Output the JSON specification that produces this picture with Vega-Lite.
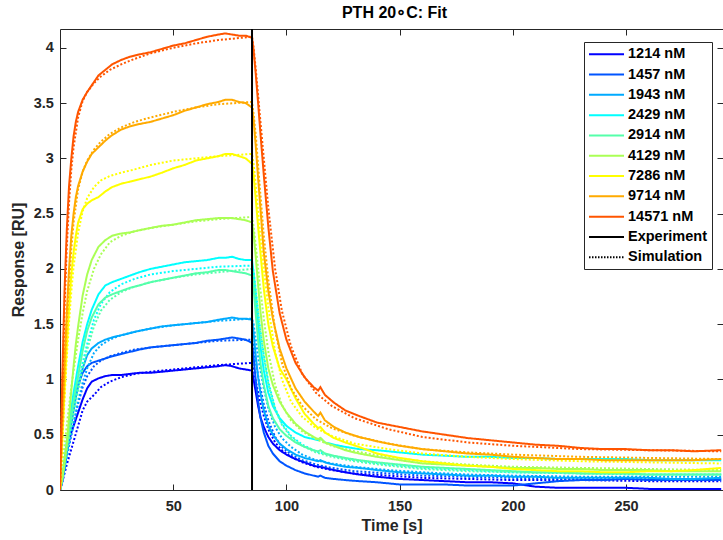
{
"$schema":"https://vega.github.io/schema/vega-lite/v6.json",
"width":663,"height":461,
"autosize":"none",
"padding":{"left":60,"top":29,"right":0,"bottom":50},
"title":{"text":"PTH 20∘C: Fit","fontSize":16,"font":"Liberation Sans","fontWeight":"bold","color":"black","anchor":"middle","offset":7,"dx":3},
"config":{
"view":{"stroke":"#262626","strokeWidth":1},
"axis":{"labelFont":"Liberation Sans","labelFontSize":14.5,"labelFontWeight":"bold","labelColor":"#262626","titleFont":"Liberation Sans","titleFontSize":16,"titleFontWeight":"bold","titleColor":"#262626","tickColor":"#262626","tickWidth":1,"tickSize":-6,"domain":false,"grid":false},
"legend":{"strokeColor":"#262626","fillColor":"white","padding":5,"cornerRadius":0,"labelFont":"Liberation Sans","labelFontSize":14.5,"labelFontWeight":"bold","labelColor":"black","symbolType":"M-1.45,0H5.55","symbolSize":100,"symbolStrokeWidth":2,"labelOffset":24.5,"rowPadding":5.3,"labelLimit":200}
},
"resolve":{"scale":{"color":"independent","strokeDash":"independent"},"axis":{"x":"independent","y":"independent"}},
"layer":[
{"data":{"values":[
{"c":1214,"k":"E","t":0,"v":0},{"c":1214,"k":"E","t":1,"v":0.1},{"c":1214,"k":"E","t":2,"v":0.22},{"c":1214,"k":"E","t":3,"v":0.36},{"c":1214,"k":"E","t":4,"v":0.44},{"c":1214,"k":"E","t":5,"v":0.52},{"c":1214,"k":"E","t":6,"v":0.58},{"c":1214,"k":"E","t":7,"v":0.64},{"c":1214,"k":"E","t":8,"v":0.7},{"c":1214,"k":"E","t":10,"v":0.82},{"c":1214,"k":"E","t":12,"v":0.92},{"c":1214,"k":"E","t":14,"v":0.98},{"c":1214,"k":"E","t":17,"v":1.01},{"c":1214,"k":"E","t":20,"v":1.03},{"c":1214,"k":"E","t":23,"v":1.04},{"c":1214,"k":"E","t":27,"v":1.04},{"c":1214,"k":"E","t":31,"v":1.05},{"c":1214,"k":"E","t":35,"v":1.06},{"c":1214,"k":"E","t":40,"v":1.06},{"c":1214,"k":"E","t":45,"v":1.07},{"c":1214,"k":"E","t":50,"v":1.08},{"c":1214,"k":"E","t":55,"v":1.09},{"c":1214,"k":"E","t":60,"v":1.1},{"c":1214,"k":"E","t":65,"v":1.11},{"c":1214,"k":"E","t":70,"v":1.12},{"c":1214,"k":"E","t":73,"v":1.13},{"c":1214,"k":"E","t":76,"v":1.12},{"c":1214,"k":"E","t":79,"v":1.1},{"c":1214,"k":"E","t":82,"v":1.09},{"c":1214,"k":"E","t":84.8,"v":1.08},
{"c":1214,"k":"E","t":85.5,"v":1.0},{"c":1214,"k":"E","t":86.5,"v":0.88},{"c":1214,"k":"E","t":87.5,"v":0.76},{"c":1214,"k":"E","t":88.5,"v":0.66},{"c":1214,"k":"E","t":90,"v":0.57},{"c":1214,"k":"E","t":92,"v":0.48},{"c":1214,"k":"E","t":94,"v":0.42},{"c":1214,"k":"E","t":97,"v":0.36},{"c":1214,"k":"E","t":100,"v":0.32},{"c":1214,"k":"E","t":104,"v":0.28},{"c":1214,"k":"E","t":108,"v":0.25},{"c":1214,"k":"E","t":112,"v":0.22},{"c":1214,"k":"E","t":114,"v":0.21},{"c":1214,"k":"E","t":115,"v":0.21},{"c":1214,"k":"E","t":117,"v":0.2},{"c":1214,"k":"E","t":121,"v":0.18},{"c":1214,"k":"E","t":126,"v":0.16},{"c":1214,"k":"E","t":132,"v":0.14},{"c":1214,"k":"E","t":140,"v":0.12},{"c":1214,"k":"E","t":150,"v":0.1},{"c":1214,"k":"E","t":160,"v":0.09},{"c":1214,"k":"E","t":170,"v":0.08},{"c":1214,"k":"E","t":180,"v":0.07},{"c":1214,"k":"E","t":190,"v":0.07},{"c":1214,"k":"E","t":200,"v":0.06},{"c":1214,"k":"E","t":210,"v":0.03},{"c":1214,"k":"E","t":220,"v":0.02},{"c":1214,"k":"E","t":230,"v":0.02},{"c":1214,"k":"E","t":240,"v":0.02},{"c":1214,"k":"E","t":250,"v":0.02},{"c":1214,"k":"E","t":260,"v":0.01},{"c":1214,"k":"E","t":270,"v":0.01},{"c":1214,"k":"E","t":280,"v":0.01},{"c":1214,"k":"E","t":292,"v":0.01},
{"c":1214,"k":"S","t":0,"v":0},{"c":1214,"k":"S","t":1,"v":0.07},{"c":1214,"k":"S","t":2,"v":0.15},{"c":1214,"k":"S","t":3,"v":0.23},{"c":1214,"k":"S","t":4,"v":0.3},{"c":1214,"k":"S","t":5,"v":0.37},{"c":1214,"k":"S","t":6,"v":0.44},{"c":1214,"k":"S","t":8,"v":0.58},{"c":1214,"k":"S","t":10,"v":0.72},{"c":1214,"k":"S","t":12,"v":0.8},{"c":1214,"k":"S","t":15,"v":0.86},{"c":1214,"k":"S","t":18,"v":0.93},{"c":1214,"k":"S","t":22,"v":0.98},{"c":1214,"k":"S","t":27,"v":1.02},{"c":1214,"k":"S","t":33,"v":1.05},{"c":1214,"k":"S","t":40,"v":1.07},{"c":1214,"k":"S","t":50,"v":1.09},{"c":1214,"k":"S","t":60,"v":1.11},{"c":1214,"k":"S","t":70,"v":1.13},{"c":1214,"k":"S","t":84.8,"v":1.15},
{"c":1214,"k":"S","t":85.5,"v":1.1},{"c":1214,"k":"S","t":86.5,"v":0.98},{"c":1214,"k":"S","t":88,"v":0.83},{"c":1214,"k":"S","t":90,"v":0.67},{"c":1214,"k":"S","t":92,"v":0.55},{"c":1214,"k":"S","t":95,"v":0.43},{"c":1214,"k":"S","t":98,"v":0.36},{"c":1214,"k":"S","t":102,"v":0.3},{"c":1214,"k":"S","t":107,"v":0.25},{"c":1214,"k":"S","t":113,"v":0.21},{"c":1214,"k":"S","t":120,"v":0.18},{"c":1214,"k":"S","t":130,"v":0.15},{"c":1214,"k":"S","t":145,"v":0.13},{"c":1214,"k":"S","t":160,"v":0.11},{"c":1214,"k":"S","t":180,"v":0.1},{"c":1214,"k":"S","t":200,"v":0.09},{"c":1214,"k":"S","t":230,"v":0.09},{"c":1214,"k":"S","t":260,"v":0.08},{"c":1214,"k":"S","t":292,"v":0.08},
{"c":1457,"k":"E","t":0,"v":0},{"c":1457,"k":"E","t":1,"v":0.08},{"c":1457,"k":"E","t":2,"v":0.2},{"c":1457,"k":"E","t":3,"v":0.34},{"c":1457,"k":"E","t":4,"v":0.48},{"c":1457,"k":"E","t":5,"v":0.62},{"c":1457,"k":"E","t":6,"v":0.75},{"c":1457,"k":"E","t":7,"v":0.86},{"c":1457,"k":"E","t":8,"v":0.95},{"c":1457,"k":"E","t":10,"v":1.06},{"c":1457,"k":"E","t":12,"v":1.12},{"c":1457,"k":"E","t":14,"v":1.15},{"c":1457,"k":"E","t":17,"v":1.17},{"c":1457,"k":"E","t":20,"v":1.19},{"c":1457,"k":"E","t":23,"v":1.21},{"c":1457,"k":"E","t":27,"v":1.23},{"c":1457,"k":"E","t":31,"v":1.25},{"c":1457,"k":"E","t":35,"v":1.27},{"c":1457,"k":"E","t":40,"v":1.29},{"c":1457,"k":"E","t":45,"v":1.3},{"c":1457,"k":"E","t":50,"v":1.31},{"c":1457,"k":"E","t":55,"v":1.32},{"c":1457,"k":"E","t":60,"v":1.33},{"c":1457,"k":"E","t":65,"v":1.35},{"c":1457,"k":"E","t":70,"v":1.36},{"c":1457,"k":"E","t":73,"v":1.37},{"c":1457,"k":"E","t":76,"v":1.38},{"c":1457,"k":"E","t":79,"v":1.37},{"c":1457,"k":"E","t":82,"v":1.36},{"c":1457,"k":"E","t":84.8,"v":1.33},
{"c":1457,"k":"E","t":85.5,"v":1.2},{"c":1457,"k":"E","t":86.5,"v":0.98},{"c":1457,"k":"E","t":87.5,"v":0.8},{"c":1457,"k":"E","t":88.5,"v":0.66},{"c":1457,"k":"E","t":90,"v":0.52},{"c":1457,"k":"E","t":92,"v":0.4},{"c":1457,"k":"E","t":94,"v":0.33},{"c":1457,"k":"E","t":97,"v":0.26},{"c":1457,"k":"E","t":100,"v":0.22},{"c":1457,"k":"E","t":104,"v":0.18},{"c":1457,"k":"E","t":108,"v":0.15},{"c":1457,"k":"E","t":112,"v":0.13},{"c":1457,"k":"E","t":114,"v":0.12},{"c":1457,"k":"E","t":115,"v":0.13},{"c":1457,"k":"E","t":117,"v":0.11},{"c":1457,"k":"E","t":121,"v":0.1},{"c":1457,"k":"E","t":126,"v":0.09},{"c":1457,"k":"E","t":132,"v":0.08},{"c":1457,"k":"E","t":140,"v":0.07},{"c":1457,"k":"E","t":150,"v":0.05},{"c":1457,"k":"E","t":160,"v":0.05},{"c":1457,"k":"E","t":170,"v":0.05},{"c":1457,"k":"E","t":180,"v":0.04},{"c":1457,"k":"E","t":190,"v":0.04},{"c":1457,"k":"E","t":200,"v":0.04},{"c":1457,"k":"E","t":210,"v":0.06},{"c":1457,"k":"E","t":220,"v":0.08},{"c":1457,"k":"E","t":230,"v":0.09},{"c":1457,"k":"E","t":240,"v":0.09},{"c":1457,"k":"E","t":250,"v":0.1},{"c":1457,"k":"E","t":260,"v":0.09},{"c":1457,"k":"E","t":270,"v":0.09},{"c":1457,"k":"E","t":280,"v":0.09},{"c":1457,"k":"E","t":292,"v":0.09},
{"c":1457,"k":"S","t":0,"v":0},{"c":1457,"k":"S","t":1,"v":0.09},{"c":1457,"k":"S","t":2,"v":0.19},{"c":1457,"k":"S","t":3,"v":0.3},{"c":1457,"k":"S","t":4,"v":0.4},{"c":1457,"k":"S","t":5,"v":0.5},{"c":1457,"k":"S","t":6,"v":0.6},{"c":1457,"k":"S","t":8,"v":0.78},{"c":1457,"k":"S","t":10,"v":0.93},{"c":1457,"k":"S","t":12,"v":1.03},{"c":1457,"k":"S","t":15,"v":1.12},{"c":1457,"k":"S","t":18,"v":1.17},{"c":1457,"k":"S","t":22,"v":1.21},{"c":1457,"k":"S","t":27,"v":1.24},{"c":1457,"k":"S","t":33,"v":1.27},{"c":1457,"k":"S","t":40,"v":1.29},{"c":1457,"k":"S","t":50,"v":1.31},{"c":1457,"k":"S","t":60,"v":1.33},{"c":1457,"k":"S","t":70,"v":1.35},{"c":1457,"k":"S","t":84.8,"v":1.36},
{"c":1457,"k":"S","t":85.5,"v":1.3},{"c":1457,"k":"S","t":86.5,"v":1.16},{"c":1457,"k":"S","t":88,"v":0.97},{"c":1457,"k":"S","t":90,"v":0.78},{"c":1457,"k":"S","t":92,"v":0.63},{"c":1457,"k":"S","t":95,"v":0.48},{"c":1457,"k":"S","t":98,"v":0.39},{"c":1457,"k":"S","t":102,"v":0.32},{"c":1457,"k":"S","t":107,"v":0.27},{"c":1457,"k":"S","t":113,"v":0.23},{"c":1457,"k":"S","t":120,"v":0.2},{"c":1457,"k":"S","t":130,"v":0.17},{"c":1457,"k":"S","t":145,"v":0.15},{"c":1457,"k":"S","t":160,"v":0.13},{"c":1457,"k":"S","t":180,"v":0.12},{"c":1457,"k":"S","t":200,"v":0.11},{"c":1457,"k":"S","t":230,"v":0.1},{"c":1457,"k":"S","t":260,"v":0.1},{"c":1457,"k":"S","t":292,"v":0.1},
{"c":1943,"k":"E","t":0,"v":0},{"c":1943,"k":"E","t":1,"v":0.08},{"c":1943,"k":"E","t":2,"v":0.2},{"c":1943,"k":"E","t":3,"v":0.33},{"c":1943,"k":"E","t":4,"v":0.47},{"c":1943,"k":"E","t":5,"v":0.6},{"c":1943,"k":"E","t":6,"v":0.72},{"c":1943,"k":"E","t":7,"v":0.84},{"c":1943,"k":"E","t":8,"v":0.94},{"c":1943,"k":"E","t":10,"v":1.1},{"c":1943,"k":"E","t":12,"v":1.22},{"c":1943,"k":"E","t":14,"v":1.28},{"c":1943,"k":"E","t":17,"v":1.33},{"c":1943,"k":"E","t":20,"v":1.36},{"c":1943,"k":"E","t":23,"v":1.38},{"c":1943,"k":"E","t":27,"v":1.4},{"c":1943,"k":"E","t":31,"v":1.42},{"c":1943,"k":"E","t":35,"v":1.44},{"c":1943,"k":"E","t":40,"v":1.46},{"c":1943,"k":"E","t":45,"v":1.48},{"c":1943,"k":"E","t":50,"v":1.49},{"c":1943,"k":"E","t":55,"v":1.5},{"c":1943,"k":"E","t":60,"v":1.51},{"c":1943,"k":"E","t":65,"v":1.52},{"c":1943,"k":"E","t":70,"v":1.54},{"c":1943,"k":"E","t":73,"v":1.55},{"c":1943,"k":"E","t":76,"v":1.56},{"c":1943,"k":"E","t":79,"v":1.55},{"c":1943,"k":"E","t":82,"v":1.55},{"c":1943,"k":"E","t":84.8,"v":1.54},
{"c":1943,"k":"E","t":85.5,"v":1.42},{"c":1943,"k":"E","t":86.5,"v":1.2},{"c":1943,"k":"E","t":87.5,"v":1.02},{"c":1943,"k":"E","t":88.5,"v":0.88},{"c":1943,"k":"E","t":90,"v":0.72},{"c":1943,"k":"E","t":92,"v":0.58},{"c":1943,"k":"E","t":94,"v":0.5},{"c":1943,"k":"E","t":97,"v":0.42},{"c":1943,"k":"E","t":100,"v":0.37},{"c":1943,"k":"E","t":104,"v":0.32},{"c":1943,"k":"E","t":108,"v":0.29},{"c":1943,"k":"E","t":112,"v":0.27},{"c":1943,"k":"E","t":114,"v":0.26},{"c":1943,"k":"E","t":115,"v":0.27},{"c":1943,"k":"E","t":117,"v":0.25},{"c":1943,"k":"E","t":121,"v":0.23},{"c":1943,"k":"E","t":126,"v":0.21},{"c":1943,"k":"E","t":132,"v":0.2},{"c":1943,"k":"E","t":140,"v":0.18},{"c":1943,"k":"E","t":150,"v":0.16},{"c":1943,"k":"E","t":160,"v":0.15},{"c":1943,"k":"E","t":170,"v":0.14},{"c":1943,"k":"E","t":180,"v":0.13},{"c":1943,"k":"E","t":190,"v":0.13},{"c":1943,"k":"E","t":200,"v":0.12},{"c":1943,"k":"E","t":210,"v":0.12},{"c":1943,"k":"E","t":220,"v":0.11},{"c":1943,"k":"E","t":230,"v":0.11},{"c":1943,"k":"E","t":240,"v":0.11},{"c":1943,"k":"E","t":250,"v":0.11},{"c":1943,"k":"E","t":260,"v":0.11},{"c":1943,"k":"E","t":270,"v":0.1},{"c":1943,"k":"E","t":280,"v":0.1},{"c":1943,"k":"E","t":292,"v":0.11},
{"c":1943,"k":"S","t":0,"v":0},{"c":1943,"k":"S","t":1,"v":0.1},{"c":1943,"k":"S","t":2,"v":0.2},{"c":1943,"k":"S","t":3,"v":0.3},{"c":1943,"k":"S","t":4,"v":0.4},{"c":1943,"k":"S","t":5,"v":0.5},{"c":1943,"k":"S","t":6,"v":0.6},{"c":1943,"k":"S","t":8,"v":0.8},{"c":1943,"k":"S","t":10,"v":0.97},{"c":1943,"k":"S","t":12,"v":1.1},{"c":1943,"k":"S","t":15,"v":1.24},{"c":1943,"k":"S","t":18,"v":1.31},{"c":1943,"k":"S","t":22,"v":1.36},{"c":1943,"k":"S","t":27,"v":1.4},{"c":1943,"k":"S","t":33,"v":1.43},{"c":1943,"k":"S","t":40,"v":1.46},{"c":1943,"k":"S","t":50,"v":1.49},{"c":1943,"k":"S","t":60,"v":1.51},{"c":1943,"k":"S","t":70,"v":1.53},{"c":1943,"k":"S","t":84.8,"v":1.55},
{"c":1943,"k":"S","t":85.5,"v":1.5},{"c":1943,"k":"S","t":86.5,"v":1.35},{"c":1943,"k":"S","t":88,"v":1.14},{"c":1943,"k":"S","t":90,"v":0.92},{"c":1943,"k":"S","t":92,"v":0.74},{"c":1943,"k":"S","t":95,"v":0.57},{"c":1943,"k":"S","t":98,"v":0.47},{"c":1943,"k":"S","t":102,"v":0.39},{"c":1943,"k":"S","t":107,"v":0.32},{"c":1943,"k":"S","t":113,"v":0.27},{"c":1943,"k":"S","t":120,"v":0.24},{"c":1943,"k":"S","t":130,"v":0.21},{"c":1943,"k":"S","t":145,"v":0.18},{"c":1943,"k":"S","t":160,"v":0.16},{"c":1943,"k":"S","t":180,"v":0.14},{"c":1943,"k":"S","t":200,"v":0.13},{"c":1943,"k":"S","t":230,"v":0.12},{"c":1943,"k":"S","t":260,"v":0.12},{"c":1943,"k":"S","t":292,"v":0.12},
{"c":2429,"k":"E","t":0,"v":0},{"c":2429,"k":"E","t":1,"v":0.12},{"c":2429,"k":"E","t":2,"v":0.28},{"c":2429,"k":"E","t":3,"v":0.44},{"c":2429,"k":"E","t":4,"v":0.58},{"c":2429,"k":"E","t":5,"v":0.74},{"c":2429,"k":"E","t":6,"v":0.88},{"c":2429,"k":"E","t":7,"v":1.0},{"c":2429,"k":"E","t":8,"v":1.12},{"c":2429,"k":"E","t":10,"v":1.34},{"c":2429,"k":"E","t":12,"v":1.5},{"c":2429,"k":"E","t":14,"v":1.63},{"c":2429,"k":"E","t":17,"v":1.77},{"c":2429,"k":"E","t":20,"v":1.85},{"c":2429,"k":"E","t":23,"v":1.88},{"c":2429,"k":"E","t":27,"v":1.91},{"c":2429,"k":"E","t":31,"v":1.94},{"c":2429,"k":"E","t":35,"v":1.97},{"c":2429,"k":"E","t":40,"v":2.0},{"c":2429,"k":"E","t":45,"v":2.02},{"c":2429,"k":"E","t":50,"v":2.04},{"c":2429,"k":"E","t":55,"v":2.06},{"c":2429,"k":"E","t":60,"v":2.07},{"c":2429,"k":"E","t":65,"v":2.08},{"c":2429,"k":"E","t":70,"v":2.1},{"c":2429,"k":"E","t":73,"v":2.1},{"c":2429,"k":"E","t":76,"v":2.11},{"c":2429,"k":"E","t":79,"v":2.09},{"c":2429,"k":"E","t":82,"v":2.08},{"c":2429,"k":"E","t":84.8,"v":2.08},
{"c":2429,"k":"E","t":85.5,"v":1.96},{"c":2429,"k":"E","t":86.5,"v":1.72},{"c":2429,"k":"E","t":87.5,"v":1.5},{"c":2429,"k":"E","t":88.5,"v":1.3},{"c":2429,"k":"E","t":90,"v":1.08},{"c":2429,"k":"E","t":92,"v":0.88},{"c":2429,"k":"E","t":94,"v":0.76},{"c":2429,"k":"E","t":97,"v":0.65},{"c":2429,"k":"E","t":100,"v":0.58},{"c":2429,"k":"E","t":104,"v":0.52},{"c":2429,"k":"E","t":108,"v":0.48},{"c":2429,"k":"E","t":112,"v":0.46},{"c":2429,"k":"E","t":114,"v":0.45},{"c":2429,"k":"E","t":115,"v":0.47},{"c":2429,"k":"E","t":117,"v":0.43},{"c":2429,"k":"E","t":121,"v":0.41},{"c":2429,"k":"E","t":126,"v":0.39},{"c":2429,"k":"E","t":132,"v":0.37},{"c":2429,"k":"E","t":140,"v":0.36},{"c":2429,"k":"E","t":150,"v":0.34},{"c":2429,"k":"E","t":160,"v":0.32},{"c":2429,"k":"E","t":170,"v":0.31},{"c":2429,"k":"E","t":180,"v":0.3},{"c":2429,"k":"E","t":190,"v":0.3},{"c":2429,"k":"E","t":200,"v":0.29},{"c":2429,"k":"E","t":210,"v":0.29},{"c":2429,"k":"E","t":220,"v":0.28},{"c":2429,"k":"E","t":230,"v":0.28},{"c":2429,"k":"E","t":240,"v":0.28},{"c":2429,"k":"E","t":250,"v":0.28},{"c":2429,"k":"E","t":260,"v":0.27},{"c":2429,"k":"E","t":270,"v":0.27},{"c":2429,"k":"E","t":280,"v":0.27},{"c":2429,"k":"E","t":292,"v":0.27},
{"c":2429,"k":"S","t":0,"v":0},{"c":2429,"k":"S","t":1,"v":0.12},{"c":2429,"k":"S","t":2,"v":0.25},{"c":2429,"k":"S","t":3,"v":0.38},{"c":2429,"k":"S","t":4,"v":0.5},{"c":2429,"k":"S","t":5,"v":0.62},{"c":2429,"k":"S","t":6,"v":0.74},{"c":2429,"k":"S","t":8,"v":0.95},{"c":2429,"k":"S","t":10,"v":1.15},{"c":2429,"k":"S","t":12,"v":1.32},{"c":2429,"k":"S","t":15,"v":1.54},{"c":2429,"k":"S","t":18,"v":1.68},{"c":2429,"k":"S","t":22,"v":1.79},{"c":2429,"k":"S","t":27,"v":1.86},{"c":2429,"k":"S","t":33,"v":1.91},{"c":2429,"k":"S","t":40,"v":1.95},{"c":2429,"k":"S","t":50,"v":1.98},{"c":2429,"k":"S","t":60,"v":2.0},{"c":2429,"k":"S","t":70,"v":2.02},{"c":2429,"k":"S","t":84.8,"v":2.03},
{"c":2429,"k":"S","t":85.5,"v":1.98},{"c":2429,"k":"S","t":86.5,"v":1.8},{"c":2429,"k":"S","t":88,"v":1.52},{"c":2429,"k":"S","t":90,"v":1.22},{"c":2429,"k":"S","t":92,"v":0.98},{"c":2429,"k":"S","t":95,"v":0.74},{"c":2429,"k":"S","t":98,"v":0.6},{"c":2429,"k":"S","t":102,"v":0.49},{"c":2429,"k":"S","t":107,"v":0.41},{"c":2429,"k":"S","t":113,"v":0.35},{"c":2429,"k":"S","t":120,"v":0.31},{"c":2429,"k":"S","t":130,"v":0.27},{"c":2429,"k":"S","t":145,"v":0.23},{"c":2429,"k":"S","t":160,"v":0.2},{"c":2429,"k":"S","t":180,"v":0.18},{"c":2429,"k":"S","t":200,"v":0.16},{"c":2429,"k":"S","t":230,"v":0.15},{"c":2429,"k":"S","t":260,"v":0.14},{"c":2429,"k":"S","t":292,"v":0.14},
{"c":2914,"k":"E","t":0,"v":0},{"c":2914,"k":"E","t":1,"v":0.1},{"c":2914,"k":"E","t":2,"v":0.24},{"c":2914,"k":"E","t":3,"v":0.38},{"c":2914,"k":"E","t":4,"v":0.52},{"c":2914,"k":"E","t":5,"v":0.66},{"c":2914,"k":"E","t":6,"v":0.8},{"c":2914,"k":"E","t":7,"v":0.92},{"c":2914,"k":"E","t":8,"v":1.03},{"c":2914,"k":"E","t":10,"v":1.26},{"c":2914,"k":"E","t":12,"v":1.44},{"c":2914,"k":"E","t":14,"v":1.56},{"c":2914,"k":"E","t":17,"v":1.68},{"c":2914,"k":"E","t":20,"v":1.74},{"c":2914,"k":"E","t":23,"v":1.77},{"c":2914,"k":"E","t":27,"v":1.8},{"c":2914,"k":"E","t":31,"v":1.83},{"c":2914,"k":"E","t":35,"v":1.85},{"c":2914,"k":"E","t":40,"v":1.88},{"c":2914,"k":"E","t":45,"v":1.9},{"c":2914,"k":"E","t":50,"v":1.92},{"c":2914,"k":"E","t":55,"v":1.94},{"c":2914,"k":"E","t":60,"v":1.96},{"c":2914,"k":"E","t":65,"v":1.97},{"c":2914,"k":"E","t":70,"v":1.99},{"c":2914,"k":"E","t":73,"v":1.99},{"c":2914,"k":"E","t":76,"v":1.98},{"c":2914,"k":"E","t":79,"v":1.97},{"c":2914,"k":"E","t":82,"v":1.96},{"c":2914,"k":"E","t":84.8,"v":1.94},
{"c":2914,"k":"E","t":85.5,"v":1.82},{"c":2914,"k":"E","t":86.5,"v":1.58},{"c":2914,"k":"E","t":87.5,"v":1.35},{"c":2914,"k":"E","t":88.5,"v":1.15},{"c":2914,"k":"E","t":90,"v":0.95},{"c":2914,"k":"E","t":92,"v":0.76},{"c":2914,"k":"E","t":94,"v":0.65},{"c":2914,"k":"E","t":97,"v":0.55},{"c":2914,"k":"E","t":100,"v":0.49},{"c":2914,"k":"E","t":104,"v":0.43},{"c":2914,"k":"E","t":108,"v":0.39},{"c":2914,"k":"E","t":112,"v":0.36},{"c":2914,"k":"E","t":114,"v":0.35},{"c":2914,"k":"E","t":115,"v":0.36},{"c":2914,"k":"E","t":117,"v":0.33},{"c":2914,"k":"E","t":121,"v":0.31},{"c":2914,"k":"E","t":126,"v":0.29},{"c":2914,"k":"E","t":132,"v":0.27},{"c":2914,"k":"E","t":140,"v":0.25},{"c":2914,"k":"E","t":150,"v":0.23},{"c":2914,"k":"E","t":160,"v":0.21},{"c":2914,"k":"E","t":170,"v":0.2},{"c":2914,"k":"E","t":180,"v":0.19},{"c":2914,"k":"E","t":190,"v":0.18},{"c":2914,"k":"E","t":200,"v":0.17},{"c":2914,"k":"E","t":210,"v":0.16},{"c":2914,"k":"E","t":220,"v":0.16},{"c":2914,"k":"E","t":230,"v":0.15},{"c":2914,"k":"E","t":240,"v":0.15},{"c":2914,"k":"E","t":250,"v":0.15},{"c":2914,"k":"E","t":260,"v":0.14},{"c":2914,"k":"E","t":270,"v":0.14},{"c":2914,"k":"E","t":280,"v":0.14},{"c":2914,"k":"E","t":292,"v":0.14},
{"c":2914,"k":"S","t":0,"v":0},{"c":2914,"k":"S","t":1,"v":0.11},{"c":2914,"k":"S","t":2,"v":0.23},{"c":2914,"k":"S","t":3,"v":0.35},{"c":2914,"k":"S","t":4,"v":0.47},{"c":2914,"k":"S","t":5,"v":0.58},{"c":2914,"k":"S","t":6,"v":0.7},{"c":2914,"k":"S","t":8,"v":0.9},{"c":2914,"k":"S","t":10,"v":1.1},{"c":2914,"k":"S","t":12,"v":1.27},{"c":2914,"k":"S","t":15,"v":1.48},{"c":2914,"k":"S","t":18,"v":1.62},{"c":2914,"k":"S","t":22,"v":1.72},{"c":2914,"k":"S","t":27,"v":1.79},{"c":2914,"k":"S","t":33,"v":1.84},{"c":2914,"k":"S","t":40,"v":1.88},{"c":2914,"k":"S","t":50,"v":1.92},{"c":2914,"k":"S","t":60,"v":1.95},{"c":2914,"k":"S","t":70,"v":1.97},{"c":2914,"k":"S","t":84.8,"v":2.0},
{"c":2914,"k":"S","t":85.5,"v":1.95},{"c":2914,"k":"S","t":86.5,"v":1.78},{"c":2914,"k":"S","t":88,"v":1.5},{"c":2914,"k":"S","t":90,"v":1.2},{"c":2914,"k":"S","t":92,"v":0.96},{"c":2914,"k":"S","t":95,"v":0.73},{"c":2914,"k":"S","t":98,"v":0.59},{"c":2914,"k":"S","t":102,"v":0.48},{"c":2914,"k":"S","t":107,"v":0.4},{"c":2914,"k":"S","t":113,"v":0.34},{"c":2914,"k":"S","t":120,"v":0.3},{"c":2914,"k":"S","t":130,"v":0.26},{"c":2914,"k":"S","t":145,"v":0.22},{"c":2914,"k":"S","t":160,"v":0.19},{"c":2914,"k":"S","t":180,"v":0.17},{"c":2914,"k":"S","t":200,"v":0.16},{"c":2914,"k":"S","t":230,"v":0.15},{"c":2914,"k":"S","t":260,"v":0.14},{"c":2914,"k":"S","t":292,"v":0.14},
{"c":4129,"k":"E","t":0,"v":0},{"c":4129,"k":"E","t":1,"v":0.1},{"c":4129,"k":"E","t":2,"v":0.25},{"c":4129,"k":"E","t":3,"v":0.42},{"c":4129,"k":"E","t":4,"v":0.65},{"c":4129,"k":"E","t":5,"v":0.9},{"c":4129,"k":"E","t":6,"v":1.12},{"c":4129,"k":"E","t":7,"v":1.32},{"c":4129,"k":"E","t":8,"v":1.48},{"c":4129,"k":"E","t":10,"v":1.76},{"c":4129,"k":"E","t":12,"v":1.95},{"c":4129,"k":"E","t":14,"v":2.08},{"c":4129,"k":"E","t":17,"v":2.2},{"c":4129,"k":"E","t":20,"v":2.26},{"c":4129,"k":"E","t":23,"v":2.3},{"c":4129,"k":"E","t":27,"v":2.32},{"c":4129,"k":"E","t":31,"v":2.33},{"c":4129,"k":"E","t":35,"v":2.35},{"c":4129,"k":"E","t":40,"v":2.37},{"c":4129,"k":"E","t":45,"v":2.39},{"c":4129,"k":"E","t":50,"v":2.4},{"c":4129,"k":"E","t":55,"v":2.42},{"c":4129,"k":"E","t":60,"v":2.44},{"c":4129,"k":"E","t":65,"v":2.45},{"c":4129,"k":"E","t":70,"v":2.46},{"c":4129,"k":"E","t":73,"v":2.46},{"c":4129,"k":"E","t":76,"v":2.46},{"c":4129,"k":"E","t":79,"v":2.45},{"c":4129,"k":"E","t":82,"v":2.44},{"c":4129,"k":"E","t":84.8,"v":2.42},
{"c":4129,"k":"E","t":85.5,"v":2.32},{"c":4129,"k":"E","t":86.5,"v":2.1},{"c":4129,"k":"E","t":87.5,"v":1.85},{"c":4129,"k":"E","t":88.5,"v":1.62},{"c":4129,"k":"E","t":90,"v":1.35},{"c":4129,"k":"E","t":92,"v":1.1},{"c":4129,"k":"E","t":94,"v":0.95},{"c":4129,"k":"E","t":97,"v":0.8},{"c":4129,"k":"E","t":100,"v":0.7},{"c":4129,"k":"E","t":104,"v":0.6},{"c":4129,"k":"E","t":108,"v":0.53},{"c":4129,"k":"E","t":112,"v":0.48},{"c":4129,"k":"E","t":114,"v":0.46},{"c":4129,"k":"E","t":115,"v":0.47},{"c":4129,"k":"E","t":117,"v":0.43},{"c":4129,"k":"E","t":121,"v":0.4},{"c":4129,"k":"E","t":126,"v":0.36},{"c":4129,"k":"E","t":132,"v":0.33},{"c":4129,"k":"E","t":140,"v":0.3},{"c":4129,"k":"E","t":150,"v":0.27},{"c":4129,"k":"E","t":160,"v":0.24},{"c":4129,"k":"E","t":170,"v":0.23},{"c":4129,"k":"E","t":180,"v":0.22},{"c":4129,"k":"E","t":190,"v":0.21},{"c":4129,"k":"E","t":200,"v":0.2},{"c":4129,"k":"E","t":210,"v":0.2},{"c":4129,"k":"E","t":220,"v":0.19},{"c":4129,"k":"E","t":230,"v":0.19},{"c":4129,"k":"E","t":240,"v":0.18},{"c":4129,"k":"E","t":250,"v":0.18},{"c":4129,"k":"E","t":260,"v":0.18},{"c":4129,"k":"E","t":270,"v":0.17},{"c":4129,"k":"E","t":280,"v":0.17},{"c":4129,"k":"E","t":292,"v":0.17},
{"c":4129,"k":"S","t":0,"v":0},{"c":4129,"k":"S","t":1,"v":0.2},{"c":4129,"k":"S","t":2,"v":0.4},{"c":4129,"k":"S","t":3,"v":0.58},{"c":4129,"k":"S","t":4,"v":0.76},{"c":4129,"k":"S","t":5,"v":0.93},{"c":4129,"k":"S","t":6,"v":1.08},{"c":4129,"k":"S","t":8,"v":1.36},{"c":4129,"k":"S","t":10,"v":1.6},{"c":4129,"k":"S","t":12,"v":1.8},{"c":4129,"k":"S","t":15,"v":2.0},{"c":4129,"k":"S","t":18,"v":2.13},{"c":4129,"k":"S","t":22,"v":2.24},{"c":4129,"k":"S","t":27,"v":2.3},{"c":4129,"k":"S","t":33,"v":2.34},{"c":4129,"k":"S","t":40,"v":2.37},{"c":4129,"k":"S","t":50,"v":2.4},{"c":4129,"k":"S","t":60,"v":2.43},{"c":4129,"k":"S","t":70,"v":2.45},{"c":4129,"k":"S","t":84.8,"v":2.47},
{"c":4129,"k":"S","t":85.5,"v":2.38},{"c":4129,"k":"S","t":86.5,"v":2.2},{"c":4129,"k":"S","t":88,"v":1.9},{"c":4129,"k":"S","t":90,"v":1.55},{"c":4129,"k":"S","t":92,"v":1.25},{"c":4129,"k":"S","t":95,"v":0.95},{"c":4129,"k":"S","t":98,"v":0.77},{"c":4129,"k":"S","t":102,"v":0.63},{"c":4129,"k":"S","t":107,"v":0.53},{"c":4129,"k":"S","t":113,"v":0.46},{"c":4129,"k":"S","t":120,"v":0.4},{"c":4129,"k":"S","t":130,"v":0.35},{"c":4129,"k":"S","t":145,"v":0.3},{"c":4129,"k":"S","t":160,"v":0.26},{"c":4129,"k":"S","t":180,"v":0.23},{"c":4129,"k":"S","t":200,"v":0.21},{"c":4129,"k":"S","t":230,"v":0.2},{"c":4129,"k":"S","t":260,"v":0.19},{"c":4129,"k":"S","t":292,"v":0.18},
{"c":7286,"k":"E","t":0,"v":0},{"c":7286,"k":"E","t":1,"v":0.45},{"c":7286,"k":"E","t":2,"v":0.9},{"c":7286,"k":"E","t":3,"v":1.3},{"c":7286,"k":"E","t":4,"v":1.65},{"c":7286,"k":"E","t":5,"v":1.95},{"c":7286,"k":"E","t":6,"v":2.15},{"c":7286,"k":"E","t":7,"v":2.3},{"c":7286,"k":"E","t":8,"v":2.42},{"c":7286,"k":"E","t":10,"v":2.54},{"c":7286,"k":"E","t":12,"v":2.59},{"c":7286,"k":"E","t":14,"v":2.62},{"c":7286,"k":"E","t":17,"v":2.65},{"c":7286,"k":"E","t":20,"v":2.7},{"c":7286,"k":"E","t":23,"v":2.74},{"c":7286,"k":"E","t":27,"v":2.77},{"c":7286,"k":"E","t":31,"v":2.79},{"c":7286,"k":"E","t":35,"v":2.81},{"c":7286,"k":"E","t":40,"v":2.835},{"c":7286,"k":"E","t":45,"v":2.87},{"c":7286,"k":"E","t":50,"v":2.91},{"c":7286,"k":"E","t":55,"v":2.94},{"c":7286,"k":"E","t":60,"v":2.98},{"c":7286,"k":"E","t":65,"v":3.0},{"c":7286,"k":"E","t":70,"v":3.02},{"c":7286,"k":"E","t":73,"v":3.04},{"c":7286,"k":"E","t":76,"v":3.04},{"c":7286,"k":"E","t":79,"v":3.02},{"c":7286,"k":"E","t":82,"v":3.0},{"c":7286,"k":"E","t":84.8,"v":2.95},
{"c":7286,"k":"E","t":85.5,"v":2.85},{"c":7286,"k":"E","t":86.5,"v":2.62},{"c":7286,"k":"E","t":87.5,"v":2.38},{"c":7286,"k":"E","t":88.5,"v":2.15},{"c":7286,"k":"E","t":90,"v":1.82},{"c":7286,"k":"E","t":92,"v":1.5},{"c":7286,"k":"E","t":94,"v":1.3},{"c":7286,"k":"E","t":97,"v":1.1},{"c":7286,"k":"E","t":100,"v":1.0},{"c":7286,"k":"E","t":104,"v":0.83},{"c":7286,"k":"E","t":108,"v":0.69},{"c":7286,"k":"E","t":112,"v":0.6},{"c":7286,"k":"E","t":114,"v":0.56},{"c":7286,"k":"E","t":115,"v":0.57},{"c":7286,"k":"E","t":117,"v":0.52},{"c":7286,"k":"E","t":121,"v":0.47},{"c":7286,"k":"E","t":126,"v":0.43},{"c":7286,"k":"E","t":132,"v":0.39},{"c":7286,"k":"E","t":140,"v":0.33},{"c":7286,"k":"E","t":150,"v":0.29},{"c":7286,"k":"E","t":160,"v":0.26},{"c":7286,"k":"E","t":170,"v":0.24},{"c":7286,"k":"E","t":180,"v":0.22},{"c":7286,"k":"E","t":190,"v":0.21},{"c":7286,"k":"E","t":200,"v":0.19},{"c":7286,"k":"E","t":210,"v":0.18},{"c":7286,"k":"E","t":220,"v":0.17},{"c":7286,"k":"E","t":230,"v":0.17},{"c":7286,"k":"E","t":240,"v":0.16},{"c":7286,"k":"E","t":250,"v":0.16},{"c":7286,"k":"E","t":260,"v":0.17},{"c":7286,"k":"E","t":270,"v":0.17},{"c":7286,"k":"E","t":280,"v":0.18},{"c":7286,"k":"E","t":292,"v":0.2},
{"c":7286,"k":"S","t":0,"v":0},{"c":7286,"k":"S","t":1,"v":0.42},{"c":7286,"k":"S","t":2,"v":0.82},{"c":7286,"k":"S","t":3,"v":1.2},{"c":7286,"k":"S","t":4,"v":1.52},{"c":7286,"k":"S","t":5,"v":1.8},{"c":7286,"k":"S","t":6,"v":2.02},{"c":7286,"k":"S","t":8,"v":2.33},{"c":7286,"k":"S","t":10,"v":2.52},{"c":7286,"k":"S","t":12,"v":2.64},{"c":7286,"k":"S","t":15,"v":2.74},{"c":7286,"k":"S","t":18,"v":2.8},{"c":7286,"k":"S","t":22,"v":2.84},{"c":7286,"k":"S","t":27,"v":2.87},{"c":7286,"k":"S","t":33,"v":2.9},{"c":7286,"k":"S","t":40,"v":2.94},{"c":7286,"k":"S","t":50,"v":2.98},{"c":7286,"k":"S","t":60,"v":3.0},{"c":7286,"k":"S","t":70,"v":3.02},{"c":7286,"k":"S","t":84.8,"v":3.04},
{"c":7286,"k":"S","t":85.5,"v":2.95},{"c":7286,"k":"S","t":86.5,"v":2.75},{"c":7286,"k":"S","t":88,"v":2.4},{"c":7286,"k":"S","t":90,"v":2.0},{"c":7286,"k":"S","t":92,"v":1.65},{"c":7286,"k":"S","t":95,"v":1.25},{"c":7286,"k":"S","t":98,"v":1.0},{"c":7286,"k":"S","t":102,"v":0.8},{"c":7286,"k":"S","t":107,"v":0.66},{"c":7286,"k":"S","t":113,"v":0.56},{"c":7286,"k":"S","t":120,"v":0.49},{"c":7286,"k":"S","t":130,"v":0.42},{"c":7286,"k":"S","t":145,"v":0.37},{"c":7286,"k":"S","t":160,"v":0.33},{"c":7286,"k":"S","t":180,"v":0.3},{"c":7286,"k":"S","t":200,"v":0.28},{"c":7286,"k":"S","t":230,"v":0.26},{"c":7286,"k":"S","t":260,"v":0.25},{"c":7286,"k":"S","t":292,"v":0.24},
{"c":9714,"k":"E","t":0,"v":0},{"c":9714,"k":"E","t":1,"v":0.6},{"c":9714,"k":"E","t":2,"v":1.15},{"c":9714,"k":"E","t":3,"v":1.6},{"c":9714,"k":"E","t":4,"v":2.0},{"c":9714,"k":"E","t":5,"v":2.3},{"c":9714,"k":"E","t":6,"v":2.5},{"c":9714,"k":"E","t":7,"v":2.65},{"c":9714,"k":"E","t":8,"v":2.75},{"c":9714,"k":"E","t":10,"v":2.88},{"c":9714,"k":"E","t":12,"v":2.97},{"c":9714,"k":"E","t":14,"v":3.04},{"c":9714,"k":"E","t":17,"v":3.1},{"c":9714,"k":"E","t":20,"v":3.16},{"c":9714,"k":"E","t":23,"v":3.21},{"c":9714,"k":"E","t":27,"v":3.26},{"c":9714,"k":"E","t":31,"v":3.29},{"c":9714,"k":"E","t":35,"v":3.31},{"c":9714,"k":"E","t":40,"v":3.33},{"c":9714,"k":"E","t":45,"v":3.36},{"c":9714,"k":"E","t":50,"v":3.39},{"c":9714,"k":"E","t":55,"v":3.43},{"c":9714,"k":"E","t":60,"v":3.46},{"c":9714,"k":"E","t":65,"v":3.49},{"c":9714,"k":"E","t":70,"v":3.51},{"c":9714,"k":"E","t":73,"v":3.53},{"c":9714,"k":"E","t":76,"v":3.53},{"c":9714,"k":"E","t":79,"v":3.51},{"c":9714,"k":"E","t":82,"v":3.5},{"c":9714,"k":"E","t":84.8,"v":3.46},
{"c":9714,"k":"E","t":85.5,"v":3.35},{"c":9714,"k":"E","t":86.5,"v":3.1},{"c":9714,"k":"E","t":87.5,"v":2.82},{"c":9714,"k":"E","t":88.5,"v":2.55},{"c":9714,"k":"E","t":90,"v":2.15},{"c":9714,"k":"E","t":92,"v":1.8},{"c":9714,"k":"E","t":94,"v":1.55},{"c":9714,"k":"E","t":97,"v":1.28},{"c":9714,"k":"E","t":100,"v":1.1},{"c":9714,"k":"E","t":104,"v":0.92},{"c":9714,"k":"E","t":108,"v":0.8},{"c":9714,"k":"E","t":112,"v":0.71},{"c":9714,"k":"E","t":114,"v":0.67},{"c":9714,"k":"E","t":115,"v":0.7},{"c":9714,"k":"E","t":117,"v":0.63},{"c":9714,"k":"E","t":121,"v":0.57},{"c":9714,"k":"E","t":126,"v":0.52},{"c":9714,"k":"E","t":132,"v":0.48},{"c":9714,"k":"E","t":140,"v":0.44},{"c":9714,"k":"E","t":150,"v":0.4},{"c":9714,"k":"E","t":160,"v":0.37},{"c":9714,"k":"E","t":170,"v":0.35},{"c":9714,"k":"E","t":180,"v":0.33},{"c":9714,"k":"E","t":190,"v":0.32},{"c":9714,"k":"E","t":200,"v":0.3},{"c":9714,"k":"E","t":210,"v":0.29},{"c":9714,"k":"E","t":220,"v":0.28},{"c":9714,"k":"E","t":230,"v":0.28},{"c":9714,"k":"E","t":240,"v":0.27},{"c":9714,"k":"E","t":250,"v":0.27},{"c":9714,"k":"E","t":260,"v":0.27},{"c":9714,"k":"E","t":270,"v":0.27},{"c":9714,"k":"E","t":280,"v":0.27},{"c":9714,"k":"E","t":292,"v":0.28},
{"c":9714,"k":"S","t":0,"v":0},{"c":9714,"k":"S","t":1,"v":0.55},{"c":9714,"k":"S","t":2,"v":1.05},{"c":9714,"k":"S","t":3,"v":1.5},{"c":9714,"k":"S","t":4,"v":1.88},{"c":9714,"k":"S","t":5,"v":2.18},{"c":9714,"k":"S","t":6,"v":2.42},{"c":9714,"k":"S","t":8,"v":2.72},{"c":9714,"k":"S","t":10,"v":2.88},{"c":9714,"k":"S","t":12,"v":2.98},{"c":9714,"k":"S","t":15,"v":3.08},{"c":9714,"k":"S","t":18,"v":3.15},{"c":9714,"k":"S","t":22,"v":3.22},{"c":9714,"k":"S","t":27,"v":3.28},{"c":9714,"k":"S","t":33,"v":3.33},{"c":9714,"k":"S","t":40,"v":3.37},{"c":9714,"k":"S","t":50,"v":3.42},{"c":9714,"k":"S","t":60,"v":3.46},{"c":9714,"k":"S","t":70,"v":3.49},{"c":9714,"k":"S","t":84.8,"v":3.51},
{"c":9714,"k":"S","t":85.5,"v":3.4},{"c":9714,"k":"S","t":86.5,"v":3.2},{"c":9714,"k":"S","t":88,"v":2.8},{"c":9714,"k":"S","t":90,"v":2.3},{"c":9714,"k":"S","t":92,"v":1.9},{"c":9714,"k":"S","t":95,"v":1.45},{"c":9714,"k":"S","t":98,"v":1.15},{"c":9714,"k":"S","t":102,"v":0.92},{"c":9714,"k":"S","t":107,"v":0.76},{"c":9714,"k":"S","t":113,"v":0.64},{"c":9714,"k":"S","t":120,"v":0.56},{"c":9714,"k":"S","t":130,"v":0.49},{"c":9714,"k":"S","t":145,"v":0.42},{"c":9714,"k":"S","t":160,"v":0.37},{"c":9714,"k":"S","t":180,"v":0.34},{"c":9714,"k":"S","t":200,"v":0.32},{"c":9714,"k":"S","t":230,"v":0.3},{"c":9714,"k":"S","t":260,"v":0.29},{"c":9714,"k":"S","t":292,"v":0.28},
{"c":14571,"k":"E","t":0,"v":0},{"c":14571,"k":"E","t":1,"v":1.0},{"c":14571,"k":"E","t":2,"v":1.8},{"c":14571,"k":"E","t":3,"v":2.35},{"c":14571,"k":"E","t":4,"v":2.75},{"c":14571,"k":"E","t":5,"v":3.0},{"c":14571,"k":"E","t":6,"v":3.2},{"c":14571,"k":"E","t":7,"v":3.33},{"c":14571,"k":"E","t":8,"v":3.42},{"c":14571,"k":"E","t":10,"v":3.53},{"c":14571,"k":"E","t":12,"v":3.6},{"c":14571,"k":"E","t":14,"v":3.66},{"c":14571,"k":"E","t":17,"v":3.75},{"c":14571,"k":"E","t":20,"v":3.8},{"c":14571,"k":"E","t":23,"v":3.85},{"c":14571,"k":"E","t":27,"v":3.89},{"c":14571,"k":"E","t":31,"v":3.92},{"c":14571,"k":"E","t":35,"v":3.94},{"c":14571,"k":"E","t":40,"v":3.96},{"c":14571,"k":"E","t":45,"v":3.99},{"c":14571,"k":"E","t":50,"v":4.02},{"c":14571,"k":"E","t":55,"v":4.04},{"c":14571,"k":"E","t":60,"v":4.07},{"c":14571,"k":"E","t":65,"v":4.1},{"c":14571,"k":"E","t":70,"v":4.12},{"c":14571,"k":"E","t":73,"v":4.13},{"c":14571,"k":"E","t":76,"v":4.12},{"c":14571,"k":"E","t":79,"v":4.11},{"c":14571,"k":"E","t":82,"v":4.11},{"c":14571,"k":"E","t":84.8,"v":4.09},
{"c":14571,"k":"E","t":85.5,"v":3.98},{"c":14571,"k":"E","t":86.5,"v":3.75},{"c":14571,"k":"E","t":87.5,"v":3.5},{"c":14571,"k":"E","t":88.5,"v":3.23},{"c":14571,"k":"E","t":90,"v":2.85},{"c":14571,"k":"E","t":92,"v":2.38},{"c":14571,"k":"E","t":94,"v":1.98},{"c":14571,"k":"E","t":97,"v":1.6},{"c":14571,"k":"E","t":100,"v":1.36},{"c":14571,"k":"E","t":104,"v":1.15},{"c":14571,"k":"E","t":108,"v":1.02},{"c":14571,"k":"E","t":112,"v":0.93},{"c":14571,"k":"E","t":114,"v":0.9},{"c":14571,"k":"E","t":115,"v":0.93},{"c":14571,"k":"E","t":117,"v":0.86},{"c":14571,"k":"E","t":121,"v":0.79},{"c":14571,"k":"E","t":126,"v":0.72},{"c":14571,"k":"E","t":132,"v":0.67},{"c":14571,"k":"E","t":140,"v":0.61},{"c":14571,"k":"E","t":150,"v":0.57},{"c":14571,"k":"E","t":160,"v":0.53},{"c":14571,"k":"E","t":170,"v":0.5},{"c":14571,"k":"E","t":180,"v":0.47},{"c":14571,"k":"E","t":190,"v":0.45},{"c":14571,"k":"E","t":200,"v":0.43},{"c":14571,"k":"E","t":210,"v":0.41},{"c":14571,"k":"E","t":220,"v":0.4},{"c":14571,"k":"E","t":230,"v":0.38},{"c":14571,"k":"E","t":240,"v":0.37},{"c":14571,"k":"E","t":250,"v":0.37},{"c":14571,"k":"E","t":260,"v":0.36},{"c":14571,"k":"E","t":270,"v":0.36},{"c":14571,"k":"E","t":280,"v":0.35},{"c":14571,"k":"E","t":292,"v":0.36},
{"c":14571,"k":"S","t":0,"v":0},{"c":14571,"k":"S","t":1,"v":0.9},{"c":14571,"k":"S","t":2,"v":1.65},{"c":14571,"k":"S","t":3,"v":2.2},{"c":14571,"k":"S","t":4,"v":2.6},{"c":14571,"k":"S","t":5,"v":2.9},{"c":14571,"k":"S","t":6,"v":3.1},{"c":14571,"k":"S","t":8,"v":3.37},{"c":14571,"k":"S","t":10,"v":3.52},{"c":14571,"k":"S","t":12,"v":3.6},{"c":14571,"k":"S","t":15,"v":3.68},{"c":14571,"k":"S","t":18,"v":3.74},{"c":14571,"k":"S","t":22,"v":3.8},{"c":14571,"k":"S","t":27,"v":3.85},{"c":14571,"k":"S","t":33,"v":3.9},{"c":14571,"k":"S","t":40,"v":3.95},{"c":14571,"k":"S","t":50,"v":4.0},{"c":14571,"k":"S","t":60,"v":4.04},{"c":14571,"k":"S","t":70,"v":4.07},{"c":14571,"k":"S","t":84.8,"v":4.1},
{"c":14571,"k":"S","t":85.5,"v":4.0},{"c":14571,"k":"S","t":86.5,"v":3.8},{"c":14571,"k":"S","t":88,"v":3.45},{"c":14571,"k":"S","t":90,"v":3.0},{"c":14571,"k":"S","t":92,"v":2.55},{"c":14571,"k":"S","t":95,"v":2.0},{"c":14571,"k":"S","t":98,"v":1.62},{"c":14571,"k":"S","t":102,"v":1.3},{"c":14571,"k":"S","t":107,"v":1.05},{"c":14571,"k":"S","t":113,"v":0.88},{"c":14571,"k":"S","t":120,"v":0.76},{"c":14571,"k":"S","t":130,"v":0.65},{"c":14571,"k":"S","t":145,"v":0.55},{"c":14571,"k":"S","t":160,"v":0.48},{"c":14571,"k":"S","t":180,"v":0.43},{"c":14571,"k":"S","t":200,"v":0.4},{"c":14571,"k":"S","t":230,"v":0.37},{"c":14571,"k":"S","t":260,"v":0.36},{"c":14571,"k":"S","t":292,"v":0.35}
]},
"mark":{"type":"line","strokeWidth":2,"clip":true},
"encoding":{
"x":{"field":"t","type":"quantitative","scale":{"domain":[0,292.8],"nice":false,"zero":false},"axis":{"orient":"bottom","values":[50,100,150,200,250],"title":"Time [s]","labelPadding":15.5,"titlePadding":4}},
"y":{"field":"v","type":"quantitative","scale":{"domain":[0,4.17],"nice":false},"axis":{"orient":"left","values":[0,0.5,1,1.5,2,2.5,3,3.5,4],"format":"~g","title":"Response [RU]","labelPadding":12.7,"titlePadding":7}},
"color":{"field":"c","type":"nominal","scale":{"domain":[1214,1457,1943,2429,2914,4129,7286,9714,14571],"range":["#0000ff","#0055ff","#00aaff","#00ffff","#55ffaa","#aaff55","#ffff00","#ffaa00","#ff5500"]},"legend":null},
"strokeDash":{"field":"k","type":"nominal","scale":{"domain":["E","S"],"range":[[1,0],[2,2]]},"legend":null}
}},
{"data":{"values":[
{"lg":"1214 nM","t":0,"v":0},{"lg":"1457 nM","t":0,"v":0},{"lg":"1943 nM","t":0,"v":0},{"lg":"2429 nM","t":0,"v":0},{"lg":"2914 nM","t":0,"v":0},{"lg":"4129 nM","t":0,"v":0},{"lg":"7286 nM","t":0,"v":0},{"lg":"9714 nM","t":0,"v":0},{"lg":"14571 nM","t":0,"v":0},{"lg":"Experiment","t":0,"v":0},{"lg":"Simulation","t":0,"v":0}
]},
"mark":{"type":"line","strokeWidth":2},
"encoding":{
"x":{"field":"t","type":"quantitative","axis":{"orient":"top","values":[50,100,150,200,250],"labels":false,"title":null}},
"y":{"field":"v","type":"quantitative","axis":{"orient":"right","values":[0,0.5,1,1.5,2,2.5,3,3.5,4],"labels":false,"title":null}},
"color":{"field":"lg","type":"nominal","scale":{"domain":["1214 nM","1457 nM","1943 nM","2429 nM","2914 nM","4129 nM","7286 nM","9714 nM","14571 nM","Experiment","Simulation"],"range":["#0000ff","#0055ff","#00aaff","#00ffff","#55ffaa","#aaff55","#ffff00","#ffaa00","#ff5500","#000000","#000000"]},"legend":{"title":null,"orient":"none","legendX":524,"legendY":13}},
"strokeDash":{"field":"lg","type":"nominal","scale":{"domain":["1214 nM","1457 nM","1943 nM","2429 nM","2914 nM","4129 nM","7286 nM","9714 nM","14571 nM","Experiment","Simulation"],"range":[[1,0],[1,0],[1,0],[1,0],[1,0],[1,0],[1,0],[1,0],[1,0],[1,0],[1.5,1.5]]},"legend":{"title":null,"orient":"none","legendX":524,"legendY":13}}
}},
{"data":{"values":[{"t":84.8}]},
"mark":{"type":"rule","color":"black","strokeWidth":2},
"encoding":{"x":{"field":"t","type":"quantitative","axis":null}}}
]
}
